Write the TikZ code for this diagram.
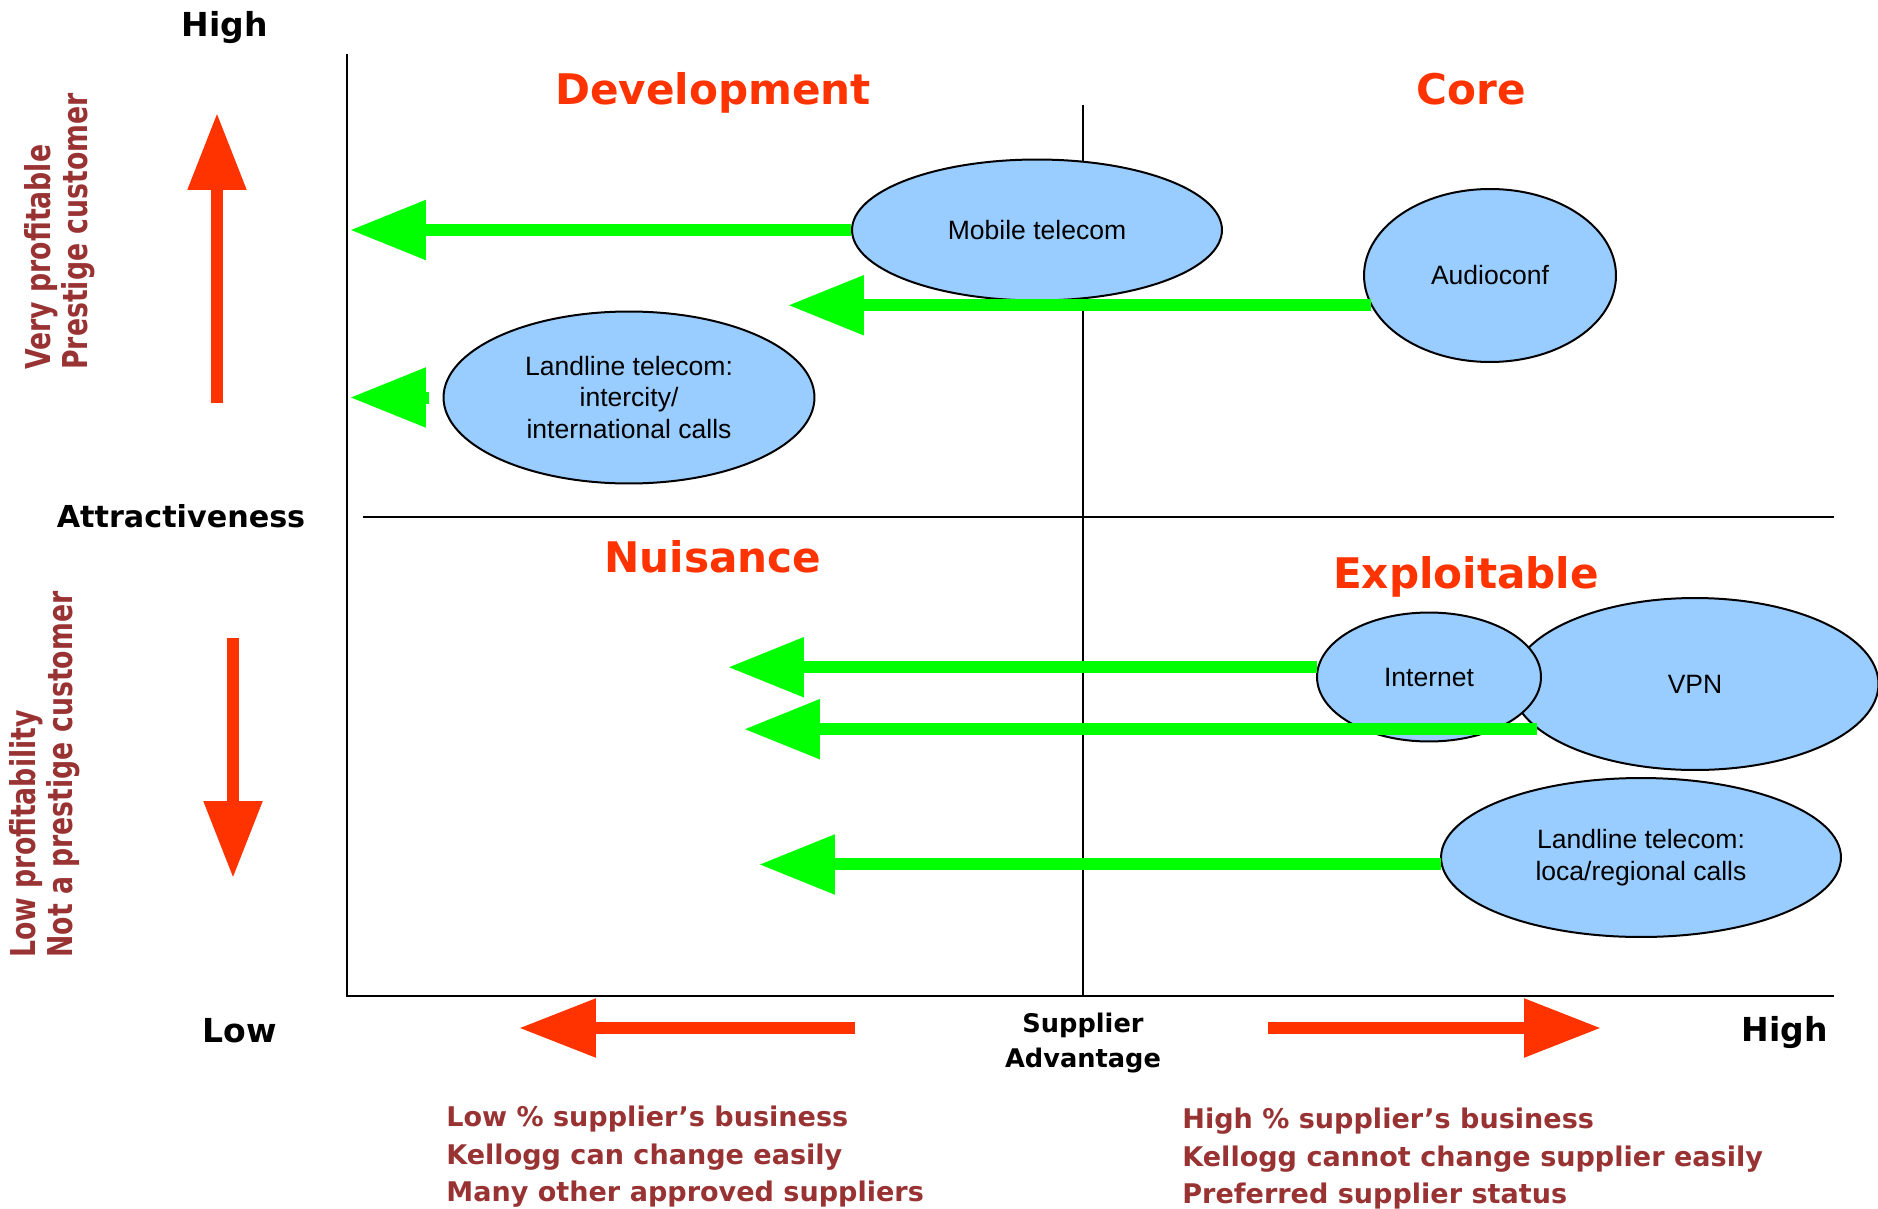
\documentclass[tikz,border=0pt]{standalone}
\usepackage{fontspec}
\setmainfont{DejaVu Sans}
\newfontfamily\arialfont{Liberation Sans}
\usetikzlibrary{shapes.geometric,arrows.meta}

\definecolor{hotred}{HTML}{FF3300}
\definecolor{rust}{HTML}{993333}
\definecolor{neon}{HTML}{00FF00}
\definecolor{sky}{HTML}{99CCFF}

% vertical side texts are set a little narrower
\newcommand{\squeeze}[1]{\scalebox{0.78}[1]{#1}}

\begin{document}
\begin{tikzpicture}[x=0.02cm, y=-0.02cm]
        \tikzstyle{frame line} = [black, line width=0.04cm];
        \tikzstyle{mid line} = [black, line width=0.03cm];
        \tikzstyle{quadrant} = [font=\bfseries\fontsize{24}{28}\selectfont, hotred, inner sep=0, anchor=base];
        \tikzstyle{rank} = [font=\bfseries\fontsize{18.8}{22}\selectfont, inner sep=0, anchor=base];
        \tikzstyle{note} = [font=\bfseries\fontsize{15.4}{21}\selectfont, rust, inner sep=0, anchor=base west];
        \tikzstyle{sidenote} = [font=\bfseries\fontsize{19.5}{22}\selectfont, rust, inner sep=0, anchor=base west, rotate=90];
        \tikzstyle{service} = [ellipse, draw=black, line width=0.04cm, fill=sky, inner sep=0,
            font=\arialfont\fontsize{15.1}{18}\selectfont, align=center];
        \tikzstyle{push} = [neon, line width=0.24cm, -{Triangle[length=1.52cm, width=1.14cm]}];
        \tikzstyle{trend} = [hotred, line width=0.24cm, -{Triangle[length=1.54cm, width=1.12cm]}];

        \useasboundingbox (0,0) rectangle (1878,1209);

        % axes and quadrant split
        \draw[frame line] (347,54) -- (347,996) -- (1834,996);
        \draw[mid line] (1083,105) -- (1083,996);
        \draw[mid line] (363,517) -- (1834,517);

        \node[rank] (y high) at (225,37) {High};
        \node[rank] (x low) at (240,1042) {Low};
        \node[rank] (x high) at (1785,1041) {High};
        \node[font=\bfseries\fontsize{17.2}{20}\selectfont, inner sep=0, anchor=base] (attr) at (181,527) {Attractiveness};
        \node[font=\bfseries\fontsize{14.6}{19.4}\selectfont, inner sep=0, align=center] (adv) at (1083,1043) {Supplier\\Advantage};

        \node[quadrant] (dev) at (713,105) {Development};
        \node[quadrant] (core) at (1471,105) {Core};
        \node[quadrant] (nui) at (713,572) {Nuisance};
        \node[quadrant] (expl) at (1466,588) {Exploitable};

        % attractiveness notes
        \node[sidenote] (vp) at (50,370) {\squeeze{Very profitable}};
        \node[sidenote] (pc) at (87,370) {\squeeze{Prestige customer}};
        \node[sidenote] (lp) at (35,958) {\squeeze{Low profitability}};
        \node[sidenote] (np) at (72,958) {\squeeze{Not a prestige customer}};

        % supplier advantage notes
        \node[note] (low a) at (446,1126) {Low \% supplier’s business};
        \node[note] (low b) at (446,1164) {Kellogg can change easily};
        \node[note] (low c) at (446,1201) {Many other approved suppliers};
        \node[note] (high a) at (1182,1128) {High \% supplier’s business};
        \node[note] (high b) at (1182,1166) {Kellogg cannot change supplier easily};
        \node[note] (high c) at (1182,1203) {Preferred supplier status};

        \draw[trend] (217,403) -- (217,113);
        \draw[trend] (233,638) -- (233,878);
        \draw[trend] (855,1028) -- (519,1028);
        \draw[trend] (1268,1028) -- (1601,1028);

        % services
        \node[service, minimum width=7.40cm, minimum height=2.82cm] (mob) at (1037,230) {Mobile telecom};
        \node[service, minimum width=5.04cm, minimum height=3.46cm] (aud) at (1490,275.5) {Audioconf};
        \node[service, minimum width=7.42cm, minimum height=3.44cm] (lli) at (629,397.5) {Landline telecom:\\intercity/\\international calls};
        \node[service, minimum width=7.34cm, minimum height=3.44cm] (vpn) at (1695,684) {VPN};
        \node[service, minimum width=4.48cm, minimum height=2.58cm] (inet) at (1429,677) {Internet};
        \node[service, minimum width=8.00cm, minimum height=3.18cm] (llr) at (1641,857.5) {Landline telecom:\\loca/regional calls};

        \coordinate (mob end) at (350,230);
        \coordinate (aud end) at (788,305);
        \coordinate (lli end) at (350,395);
        \coordinate (inet end) at (728,668);
        \coordinate (vpn end) at (744,728);
        \coordinate (llr end) at (759,863);

        \draw[push] (mob.west) -- (mob.west -| mob end);
        \draw[push] (aud.194) -- (aud.194 -| aud end);
        \draw[push, shorten <=0.28cm] (lli.west) -- (lli.west -| lli end);
        \draw[push] (inet.175) -- (inet.175 -| inet end);
        \draw[push] (vpn.196) -- (vpn.196 -| vpn end);
        \draw[push] (llr.182) -- (llr.182 -| llr end);
\end{tikzpicture}
\end{document}
